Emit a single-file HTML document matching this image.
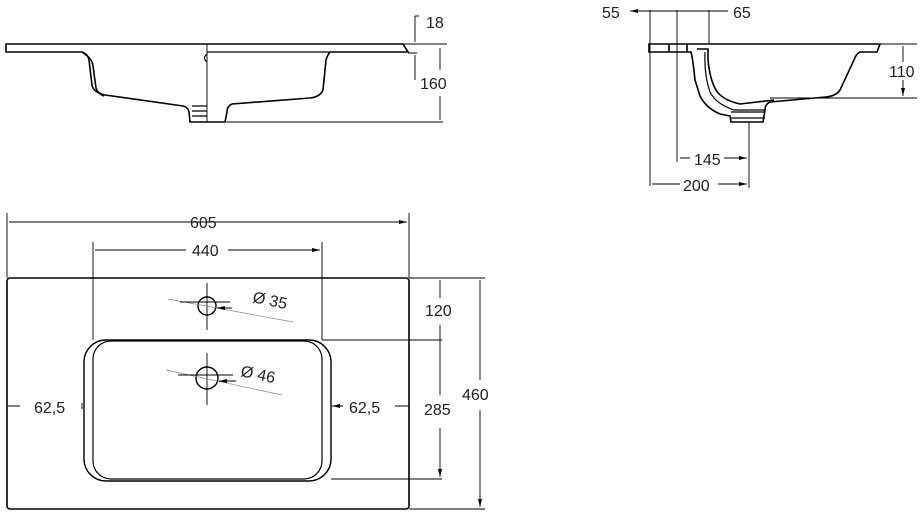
<!DOCTYPE html>
<html><head><meta charset="utf-8"><style>
html,body{margin:0;padding:0;background:#fff;width:921px;height:518px;overflow:hidden}
svg text{font-family:"Liberation Sans",sans-serif;fill:#222;font-size:16px}
</style></head><body>
<svg width="921" height="518" viewBox="0 0 921 518" xmlns="http://www.w3.org/2000/svg">
<defs>
<marker id="a" markerWidth="8" markerHeight="6" refX="8" refY="3" orient="auto-start-reverse" markerUnits="userSpaceOnUse"><path d="M0,1 L8,3 L0,5z" fill="#000"/></marker>
</defs>
<g fill="none" stroke="#000" stroke-width="1.6">
<path d="M6,44 H403 L408,52 H330 Q327,56 326,60 L323,90 Q320,97 310,98 L232,104 Q227,106 227,112 L225,122 H190 L189,112 Q188,107 183,106 L105,95 Q93,92 92,85 L89,60 Q88,54 82,52 H6 Z"/>
<path d="M83,53 Q92,58 93,66 L96,88 Q98,94 104,96"/>
<path d="M207,52 H329" stroke-width="1.2"/>
<path d="M207,54 Q202,58 207,62" stroke-width="1.2"/>
<path d="M192,106 H207 M192,111 H207 M192,116 H207" stroke-width="1.2"/>
</g>
<g fill="none" stroke="#000" stroke-width="0.9">
<path d="M207,44 V122 M225,122 H443 M403,44 H447 M408,53 H417"/>
<path d="M415,16 V42 M415,55 V80 M415,16 H419"/>
<path d="M440,48 V70 M440,96 V120"/>
</g>
<text x="426" y="28">18</text><text x="420" y="89">160</text>

<g fill="none" stroke="#000" stroke-width="1.6">
<path d="M649,44 H880 L877,52 H860 Q856,54 854,60 L840,90 Q836,96 826,97 L770,102 Q765,104 765,110 L763,122 H731 L730,116 L720,114 Q706,108 700,96 L695,80 Q693,60 691,52 H649 Z"/>
<path d="M669,44 V52 M687,44 V52"/>
<path d="M697,49 H708 L708,60 Q710,80 716,90 Q722,100 740,104 L774,100"/>
<path d="M705,52 Q704,75 710,92 Q716,104 734,110 L765,110" stroke-width="1.2"/>
<path d="M731,112 H765 M731,118 H765" stroke-width="1.2"/>
</g>
<g fill="none" stroke="#000" stroke-width="0.9">
<path d="M650,10 V186 M677,10 V162 M709,10 V44"/>
<path d="M630,11 H650 M709,11 H728" marker-start="url(#a)"/>
<path d="M650,11 H709"/>
<path d="M749,122 V188"/>
<path d="M690,158 H680 M724,158 H747" marker-end="url(#a)"/>
<path d="M680,184 H652 M718,184 H747" marker-end="url(#a)"/>
<path d="M652,184 H680 M680,158 H690"/>
<path d="M880,44 H917 M770,98 H917 M903,62 V46 M903,80 V96" marker-end="url(#a)"/>
</g>
<text x="602" y="18">55</text><text x="733" y="18">65</text>
<text x="694" y="165">145</text><text x="683" y="191">200</text>
<text x="889" y="77">110</text>

<g fill="none" stroke="#000">
<rect x="7" y="278" width="402" height="231" rx="3" stroke-width="1.6"/>
<rect x="84" y="340" width="247" height="141" rx="22" stroke-width="1.4"/>
<rect x="93" y="341" width="229" height="138" rx="18" stroke-width="1.2"/>
<circle cx="207" cy="306" r="9" stroke-width="1.4"/>
<circle cx="207" cy="378" r="11" stroke-width="1.4"/>
</g>
<g fill="none" stroke="#000" stroke-width="0.9">
<path d="M7,213 V278 M409,213 V278 M93,242 V340 M322,242 V340"/>
<path d="M180,222 H9 M236,222 H407" marker-end="url(#a)"/>
<path d="M180,222 H236"/>
<path d="M186,250 H95 M228,250 H320" marker-end="url(#a)"/>
<path d="M207,283 V330 M207,353 V405"/>
<path d="M184,302 H230 M181,375 H233"/>
<path d="M168,299 L293,322 M166,370 L282,395" stroke="#888" stroke-width="0.7"/>
<path d="M180,302 H197 M232,308 H217" marker-end="url(#a)"/>
<path d="M178,375 H195 M236,381 H219" marker-end="url(#a)"/>
<path d="M409,278 H485 M322,340 H442 M331,479 H442 M409,509 H485"/>
<path d="M440,298 V280 M440,325 V342 M440,395 V342 M440,428 V477" marker-end="url(#a)"/>
<path d="M480,380 V280 M480,410 V507" marker-end="url(#a)"/>
<path d="M20,406 H8 M395,406 H409 M343,406 H332" marker-end="url(#a)"/>
<path d="M82,403 V409"/>
</g>
<text x="252" y="302" transform="rotate(12 252 302)">Ø 35</text>
<text x="240" y="376" transform="rotate(12 240 376)">Ø 46</text>
<text x="190" y="228">605</text>
<text x="192" y="256">440</text>
<text x="425" y="316">120</text>
<text x="424" y="415">285</text>
<text x="462" y="400">460</text>
<text x="34" y="413">62,5</text>
<text x="349" y="413">62,5</text>
</svg>
</body></html>
